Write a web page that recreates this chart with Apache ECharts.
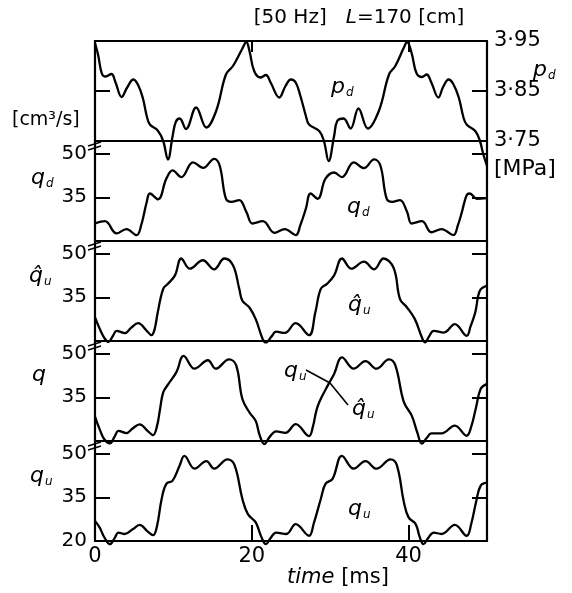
<!DOCTYPE html>
<html>
<head>
<meta charset="utf-8">
<script src="https://cdn.jsdelivr.net/npm/echarts@6/dist/echarts.min.js"></script>
<style>
  html, body { margin: 0; padding: 0; background: #fff; }
  #chart { width: 572px; height: 593px; }
</style>
</head>
<body>
<div id="chart"></div>
<script>
// tick labels
const timeTicks = [0, 20, 40];
const timeInnerTicks = [20, 40];
const qTicks = [35, 50];
const qTicksBottom = [20, 35, 50];
const pdTicks = [3.75, 3.85, 3.95];
const pdInnerTicks = [3.85];

// [time ms, value]
const pdCurve = [
  [0, 3.946], [0.4, 3.922], [0.85, 3.886], [1.27, 3.879], [2.1, 3.884], [2.6, 3.868], [3.4, 3.838],
  [4.1, 3.857], [4.9, 3.873], [5.5, 3.862], [6.1, 3.836], [6.6, 3.80], [7.0, 3.783], [8.0, 3.771],
  [8.7, 3.75], [9.3, 3.713], [9.9, 3.76], [10.3, 3.788], [10.8, 3.795], [11.6, 3.774], [12.9, 3.817],
  [14.2, 3.777], [15.45, 3.81], [16.7, 3.883], [17.6, 3.90], [18.8, 3.935], [19.3, 3.948],
  [19.7, 3.93], [20.3, 3.89], [21.1, 3.877], [21.8, 3.882], [22.4, 3.867], [23.5, 3.837], [24.3, 3.86],
  [24.97, 3.873], [25.6, 3.867], [26.2, 3.84], [26.9, 3.80], [27.3, 3.783], [28.6, 3.77], [29.2, 3.75],
  [29.8, 3.71], [30.5, 3.76], [30.9, 3.79], [31.7, 3.795], [32.6, 3.775], [33.6, 3.815], [34.8, 3.775],
  [36.2, 3.81], [37.5, 3.883], [38.3, 3.90], [39.4, 3.937], [39.8, 3.948],
  [40.4, 3.925], [41.0, 3.886], [41.7, 3.878], [42.3, 3.883], [42.9, 3.867], [43.8, 3.837], [44.4, 3.858],
  [45.1, 3.873], [45.7, 3.864], [46.4, 3.837], [47.0, 3.797], [47.4, 3.783], [48.5, 3.77], [49.1, 3.75],
  [49.5, 3.725], [50, 3.70]
];

const qdCurve = [
  [0, 26.0], [1.27, 26.8], [2.75, 22.6], [4.0, 24.1], [5.3, 22.0], [5.9, 25.5], [6.6, 33.4], [7.0, 36.3],
  [8.04, 34.3], [9.1, 41.4], [9.9, 44.2], [11.0, 41.9], [12.5, 47.0], [13.8, 45.1], [15.2, 48.2],
  [15.9, 45.9], [16.7, 34.5], [17.4, 33.4], [18.4, 34.0], [19.3, 30.0], [20.1, 26.0],
  [21.4, 26.8], [22.9, 22.8], [24.2, 24.1], [25.6, 22.0], [26.2, 25.5], [26.9, 31.1], [27.5, 36.3],
  [28.4, 34.5], [29.4, 41.4], [30.5, 43.5], [31.5, 41.9], [33.0, 47.0], [34.3, 45.0], [35.6, 48.0],
  [36.4, 45.9], [37.2, 34.5], [37.9, 33.4], [38.9, 34.0], [39.8, 30.0], [40.4, 26.0],
  [41.7, 26.8], [42.9, 23.0], [44.2, 24.1], [45.7, 22.0], [46.3, 25.5], [46.8, 30.0], [47.4, 35.7],
  [47.8, 36.3], [48.7, 34.5], [50, 34.7]
];

const quHatCurve = [
  [0, 28.1], [0.63, 24.0], [1.2, 21.0], [1.7, 19.7], [2.3, 21.8], [2.75, 23.5], [3.8, 22.7], [4.6, 24.5],
  [5.5, 26.1], [6.6, 23.5], [7.2, 22.0], [7.6, 24.0], [8.0, 29.8], [8.7, 37.9], [9.3, 39.6], [10.2, 42.5],
  [11.0, 48.3], [12.1, 44.8], [13.75, 47.7], [15.2, 44.6], [16.5, 48.3], [17.6, 46.0], [18.4, 37.9],
  [18.8, 33.8], [19.7, 31.5], [20.5, 27.5], [21.4, 20.6], [21.8, 19.5],
  [22.5, 21.5], [23.1, 23.2], [24.2, 22.8], [25.6, 26.1], [27.3, 22.0], [28.1, 29.8], [28.8, 37.9],
  [29.6, 39.6], [30.5, 42.5], [31.5, 48.3], [32.7, 44.8], [34.3, 47.2], [35.6, 44.6], [36.8, 48.3],
  [38.1, 45.0], [38.9, 34.4], [39.8, 31.5], [40.8, 27.5], [41.7, 21.2], [42.1, 19.5],
  [42.6, 21.5], [43.2, 23.5], [44.5, 22.9], [45.9, 25.8], [47.4, 21.8], [47.9, 25.0], [48.5, 29.8],
  [49.1, 37.3], [50, 39.0]
];

const qCurve = [
  [0, 28.4], [0.6, 24.0], [1.2, 20.5], [1.9, 19.2], [2.5, 21.5], [3.0, 23.5], [4.0, 22.7], [4.8, 24.3],
  [5.7, 25.7], [6.7, 23.5], [7.4, 22.0], [7.9, 25.0], [8.3, 31.0], [8.7, 36.7], [9.3, 39.3], [10.4, 43.7],
  [11.3, 49.2], [12.7, 44.8], [14.4, 47.7], [15.4, 44.8], [17.1, 48.0], [18.0, 46.0], [18.8, 34.4],
  [19.7, 29.8], [20.5, 26.9], [21.0, 22.0], [21.6, 18.9],
  [22.3, 21.5], [23.1, 23.3], [24.3, 22.8], [25.6, 25.8], [27.3, 21.7], [27.8, 25.0], [28.2, 30.0],
  [28.6, 33.3], [29.8, 39.6], [30.5, 43.0], [31.5, 48.7], [33.0, 44.8], [34.5, 47.4], [35.9, 44.8],
  [37.5, 48.0], [38.3, 46.0], [39.4, 33.3], [40.4, 28.7], [41.1, 23.0], [41.7, 19.1],
  [42.3, 21.0], [42.9, 22.6], [44.2, 22.6], [45.9, 25.3], [47.4, 21.8], [48.0, 25.0], [48.6, 31.5],
  [49.2, 37.9], [50, 39.6]
];

const quCurve = [
  [0, 26.9], [0.6, 24.6], [1.2, 21.2], [1.9, 18.9], [2.5, 21.0], [3.0, 22.9], [3.8, 22.4], [4.8, 24.0],
  [5.7, 25.5], [6.7, 23.3], [7.4, 22.0], [7.9, 25.0], [8.5, 34.4], [9.1, 39.6], [9.9, 40.7], [10.8, 45.9],
  [11.4, 49.2], [12.7, 44.8], [14.2, 47.4], [15.2, 44.8], [16.9, 48.0], [17.8, 46.0], [18.8, 34.4],
  [19.5, 29.2], [20.5, 26.4], [21.2, 21.5], [21.8, 18.9],
  [22.4, 21.0], [23.1, 22.9], [24.4, 22.4], [25.6, 25.8], [27.3, 21.8], [27.9, 26.0], [28.8, 34.4],
  [29.4, 39.6], [30.3, 41.3], [31.5, 49.2], [33.0, 44.8], [34.5, 47.4], [35.9, 44.8], [37.7, 48.0],
  [38.5, 46.0], [39.4, 33.3], [40.0, 28.1], [40.9, 25.8], [41.4, 21.5], [41.9, 18.9],
  [42.5, 21.0], [43.2, 22.9], [44.2, 22.4], [45.9, 25.5], [47.4, 21.8], [48.0, 26.0], [48.6, 33.3],
  [49.2, 39.0], [50, 40.0]
];

const ink = '#000';
const font = 'DejaVu Sans';
const panels = [pdCurve, qdCurve, quHatCurve, qCurve, quCurve];
const panelTops = [41, 141, 241, 341, 441];

const chart = echarts.init(document.getElementById('chart'));

const border = { show: true, onZero: false, lineStyle: { color: ink, width: 2.2 } };
const tickStyle = { color: ink, width: 2 };

const grid = panelTops.map(top => ({ left: 95, width: 392, top: top, height: 100 }));

const xAxis = panels.map((d, i) => ({
  gridIndex: i, type: 'value', min: 0, max: 50,
  axisLine: border,
  axisTick: { show: i === 4, inside: true, length: 16, customValues: timeInnerTicks, lineStyle: tickStyle },
  axisLabel: { show: i === 4, customValues: timeTicks, fontSize: 21, fontFamily: font, color: ink, margin: 5 },
  splitLine: { show: false }
}));
// top border of the p_d panel
xAxis.push({
  gridIndex: 0, type: 'value', position: 'top', min: 0, max: 50,
  axisLine: border,
  axisTick: { show: true, inside: true, length: 11, customValues: timeInnerTicks, lineStyle: tickStyle },
  axisLabel: { show: false }, splitLine: { show: false }
});

const yAxis = [];
panels.forEach((d, i) => {
  const isP = i === 0;
  const range = isP ? { min: 3.75, max: 3.95 } : { min: 20, max: 54.3 };
  const ticks = isP ? pdInnerTicks : qTicks;
  yAxis.push({
    gridIndex: i, type: 'value', position: 'left', ...range,
    axisLine: border,
    axisTick: { show: true, inside: true, length: 15, customValues: ticks, lineStyle: tickStyle },
    axisLabel: {
      show: !isP, customValues: i === 4 ? qTicksBottom : qTicks,
      fontSize: 20, fontFamily: font, color: ink, margin: 8, padding: [8, 0, 0, 0]
    },
    splitLine: { show: false }
  });
  yAxis.push({
    gridIndex: i, type: 'value', position: 'right', ...range,
    axisLine: border,
    axisTick: { show: true, inside: true, length: 15, customValues: ticks, lineStyle: tickStyle },
    axisLabel: {
      show: isP, customValues: pdTicks,
      formatter: v => v.toFixed(2).replace('.', '\u00b7'),
      fontSize: 21, fontFamily: font, color: ink, margin: 7, padding: [10, 0, 0, 0]
    },
    splitLine: { show: false }
  });
});

const series = panels.map((d, i) => ({
  type: 'line', xAxisIndex: i, yAxisIndex: 2 * i + 1,
  data: d, smooth: 0.4, symbol: 'none', clip: false,
  lineStyle: { color: ink, width: 2.3 }
}));

function txt(x, y, text, size, align) {
  return {
    type: 'text', x: x, y: y, silent: true,
    style: {
      text: text, fill: ink, fontSize: size, fontFamily: font,
      align: align || 'left', verticalAlign: 'middle',
      textAlign: align || 'left', textVerticalAlign: 'middle',
      rich: {
        n: { fontSize: size, fontFamily: font, fill: ink },
        i: { fontSize: size, fontFamily: font, fontStyle: 'italic', fill: ink },
        m: { fontSize: size + 2, fontFamily: font, fontStyle: 'italic', fill: ink },
        s: { fontSize: Math.round(size * 0.62), fontFamily: font, fontStyle: 'italic', fill: ink, padding: [Math.round(size * 0.6), 0, 0, 1] }
      }
    }
  };
}
function line(x1, y1, x2, y2) {
  return { type: 'line', silent: true, shape: { x1, y1, x2, y2 }, style: { stroke: ink, lineWidth: 1.6 } };
}

const graphic = [
  txt(359, 18, '{n|[50 Hz]   }{i|L}{n|=170 [cm]}', 20, 'center'),
  txt(12, 120, '[cm\u00b3/s]', 19),
  txt(31, 178, '{m|q}{s|d}', 20),
  txt(29, 276, '{m|q\u0302}{s|u}', 20),
  txt(32, 375, '{m|q}', 20),
  txt(30, 476, '{m|q}{s|u}', 20),
  txt(533, 70, '{m|p}{s|d}', 20),
  txt(494, 169, '[MPa]', 22),
  txt(331, 87, '{m|p}{s|d}', 20),
  txt(347, 207, '{m|q}{s|d}', 20),
  txt(348, 305, '{m|q\u0302}{s|u}', 20),
  txt(284, 371, '{m|q}{s|u}', 20),
  txt(352, 409, '{m|q\u0302}{s|u}', 20),
  txt(348, 509, '{m|q}{s|u}', 20),
  txt(338, 578, '{i|time}{n| [ms]}', 21, 'center'),
  line(306, 370, 330, 383),
  line(330, 383, 348, 405)
];
// axis break marks on the left edge of the flow panels
[141, 241, 341, 441].forEach(y => {
  graphic.push(line(88, y + 5, 101, y + 1));
  graphic.push(line(88, y + 9, 101, y + 5));
});

chart.setOption({
  animation: false,
  backgroundColor: '#fff',
  grid: grid,
  xAxis: xAxis,
  yAxis: yAxis,
  series: series,
  graphic: graphic
});
</script>
</body>
</html>
